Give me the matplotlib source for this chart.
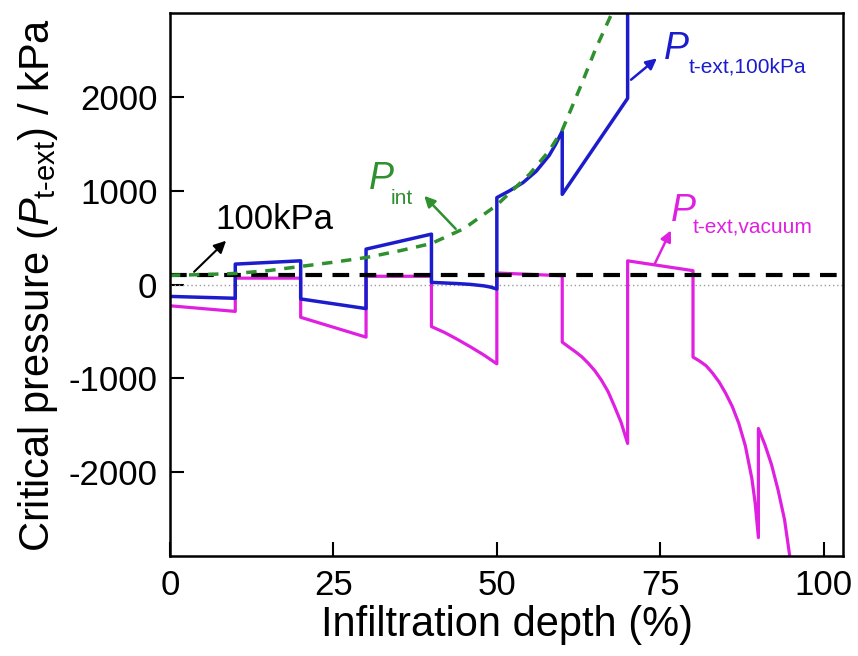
import matplotlib
matplotlib.use('Agg')
import matplotlib.pyplot as plt

plt.rcParams['font.family'] = ['Liberation Sans', 'DejaVu Sans']
plt.rcParams['mathtext.fontset'] = 'custom'
plt.rcParams['mathtext.rm'] = 'Liberation Sans'
plt.rcParams['mathtext.it'] = 'Liberation Sans:italic'
plt.rcParams['axes.unicode_minus'] = False

# critical pressure with 100 kPa outside (blue)
blue_x = [0, 10, 10, 20, 20, 30, 30, 40, 40, 44, 46, 48, 49, 50,
          50, 52, 54, 56, 58, 59, 60, 60, 70, 70]
blue_y = [-125, -145, 220, 255, -152, -255, 380, 540, 25, 12, 3, -12, -25, -46,
          930, 1005, 1090, 1210, 1380, 1500, 1640, 965, 1990, 3500]

# critical pressure with vacuum outside (magenta)
mag_x = [0, 10, 10, 20, 20, 30, 30, 40, 40, 42, 44, 46, 48, 50, 50, 60,
         60, 61, 62, 63, 64, 65, 66, 67, 68, 69, 70,
         70, 80, 80, 81, 82, 83, 84, 85, 86, 87, 88, 89, 89.5, 90,
         90, 91, 92, 93, 94, 95]
mag_y = [-225, -285, 70, 70, -348, -560, 90, 90, -447, -510, -585, -665, -750, -845, 125, 96,
         -613, -665, -715, -770, -840, -920, -1020, -1140, -1300, -1470, -1695,
         255, 150, -773, -815, -865, -945, -1040, -1160, -1300, -1480, -1720, -2070, -2330, -2700,
         -1535, -1710, -1920, -2190, -2510, -3000]

# internal pressure (green dashed)
int_x = [0, 5, 10, 15, 20, 25, 30, 35, 40, 45, 50, 55, 58, 60, 63, 65, 67.6, 68.5]
int_y = [100, 108, 120, 150, 195, 240, 290, 360, 440, 600, 850, 1180, 1430, 1650, 2150, 2500, 2900, 3200]

ref_level = 100
x_ticks = [0, 25, 50, 75, 100]
y_ticks = [-2000, -1000, 0, 1000, 2000]

BLUE = '#1c1ccc'
MAGENTA = '#e020e0'
GREEN = '#2e902e'

fig = plt.figure(figsize=(8.58, 6.56), dpi=100)
ax = fig.add_axes([0.198, 0.152, 0.785, 0.828])

ax.axhline(0, color='#999999', lw=1.0, ls=(0, (1, 2)))
ax.plot(mag_x, mag_y, color=MAGENTA, lw=2.3)
ax.plot(blue_x, blue_y, color=BLUE, lw=2.5)
ax.axhline(ref_level, color='black', lw=3, ls=(0, (4, 2.5)))
ax.plot(int_x, int_y, color=GREEN, lw=2.5, ls=(0, (3, 2.5)))

ax.set_xlim(0, 103)
ax.set_ylim(-2900, 2900)
ax.set_xticks(x_ticks)
ax.set_yticks(y_ticks)
ax.tick_params(direction='in', length=10, width=1.5, labelsize=25, pad=9)
for s in ax.spines.values():
    s.set_linewidth(1.8)

ax.set_xlabel('Infiltration depth (%)', fontsize=30, labelpad=2)
ax.set_ylabel(r'Critical pressure ($P_{\mathrm{t\text{-}ext}}$) / kPa', fontsize=30, labelpad=6)

# annotations
ax.annotate('', xy=(8.9, 490), xytext=(3.4, 117),
            arrowprops=dict(arrowstyle='-|>', color='black', lw=1.5, mutation_scale=18))
ax.text(6.9, 700, '100kPa', fontsize=25, va='center', ha='left')

ax.annotate('', xy=(38.6, 970), xytext=(44, 575),
            arrowprops=dict(arrowstyle='-|>', color=GREEN, lw=1.8, mutation_scale=16))
ax.text(30.5, 1130, 'P', fontsize=27, style='italic', color=GREEN, va='center')
ax.text(33.8, 925, 'int', fontsize=15, color=GREEN, va='center')

ax.annotate('', xy=(74.8, 2436), xytext=(70.2, 2170),
            arrowprops=dict(arrowstyle='-|>', color=BLUE, lw=1.8, mutation_scale=16))
ax.text(75.6, 2520, 'P', fontsize=27, style='italic', color=BLUE, va='center')
ax.text(79.4, 2330, 't-ext,100kPa', fontsize=15, color=BLUE, va='center')

ax.annotate('', xy=(76.8, 606), xytext=(74, 202),
            arrowprops=dict(arrowstyle='-|>', color=MAGENTA, lw=1.8, mutation_scale=16))
ax.text(76.6, 787, 'P', fontsize=27, style='italic', color=MAGENTA, va='center')
ax.text(80.0, 606, 't-ext,vacuum', fontsize=15, color=MAGENTA, va='center')

fig.savefig('out.png', dpi=100)
